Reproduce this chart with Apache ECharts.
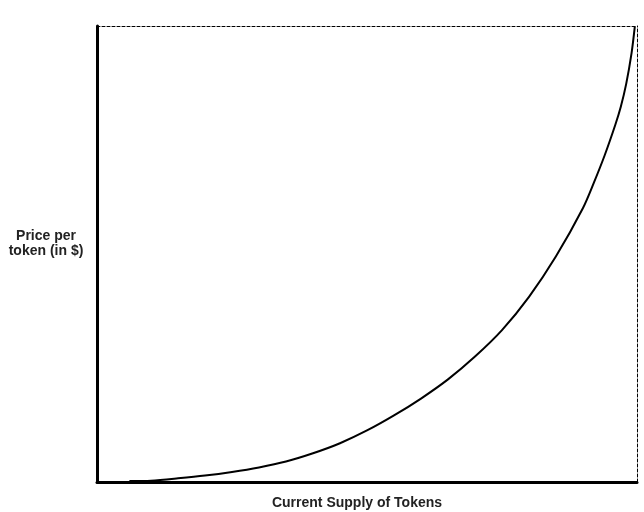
<!DOCTYPE html>
<html>
<head>
<meta charset="utf-8">
<script src="https://cdn.jsdelivr.net/npm/echarts@6/dist/echarts.min.js"></script>
<style>
  html, body { margin: 0; padding: 0; background: #fff; }
  #chart { width: 644px; height: 512px; }
</style>
</head>
<body>
<div id="chart"></div>
<script>
  // supply (x) vs price (y), both on a 0-100 scale
  const supply = [6, 10, 15, 20, 25, 30, 35, 40, 45, 50, 55, 60, 65, 70, 75, 80, 85, 90, 92, 94, 96, 97, 98, 99, 99.6]
  const price = [0.2, 0.3, 0.8, 1.4, 2.2, 3.2, 4.5, 6.3, 8.5, 11.3, 14.6, 18.3, 22.5, 27.5, 33.3, 40.6, 49.5, 60.1, 65.6, 71.6, 78.4, 82.3, 87.3, 94.1, 99.9]

  const xName = 'Current Supply of Tokens'
  const yName = 'Price per\ntoken (in $)'

  const chart = echarts.init(document.getElementById('chart'))

  const hidden = { show: false }
  const solid = { show: true, onZero: false, lineStyle: { color: '#000', width: 3 } }
  const dashed = { show: true, onZero: false, lineStyle: { color: '#000', width: 1, type: [3, 2] } }
  const labelFont = 'bold 14px "Liberation Sans"'

  chart.setOption({
    animation: false,
    grid: { left: 97, right: 7, top: 26, bottom: 30, outerBoundsMode: 'none' },
    xAxis: [
      { type: 'value', min: 0, max: 100, axisLine: solid, axisTick: hidden, axisLabel: hidden, splitLine: hidden },
      { type: 'value', min: 0, max: 100, position: 'top', axisLine: dashed, axisTick: hidden, axisLabel: hidden, splitLine: hidden }
    ],
    yAxis: [
      { type: 'value', min: 0, max: 100, axisLine: solid, axisTick: hidden, axisLabel: hidden, splitLine: hidden },
      { type: 'value', min: 0, max: 100, position: 'right', axisLine: dashed, axisTick: hidden, axisLabel: hidden, splitLine: hidden }
    ],
    graphic: [
      {
        type: 'text', x: 46, y: 229,
        style: { text: yName, align: 'center', font: labelFont, fill: '#222', lineHeight: 15 }
      },
      {
        type: 'text', x: 357, y: 496,
        style: { text: xName, align: 'center', font: labelFont, fill: '#222' }
      }
    ],
    series: [
      {
        type: 'line',
        smooth: 0.3,
        symbol: 'none',
        data: supply.map((s, i) => [s, price[i]]),
        lineStyle: { color: '#000', width: 2 }
      }
    ]
  })
</script>
</body>
</html>
